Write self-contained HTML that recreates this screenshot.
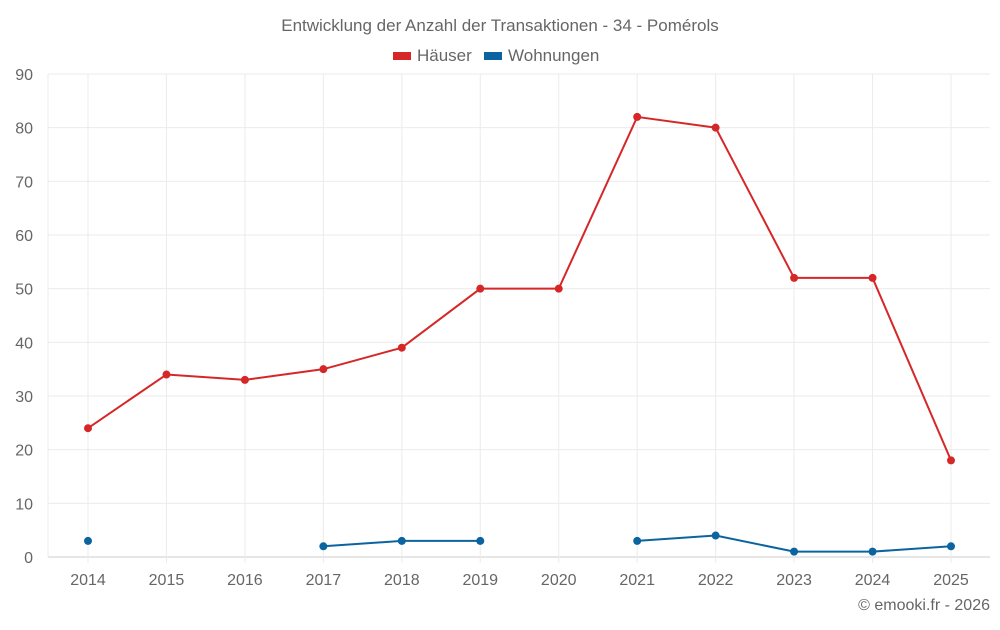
<!DOCTYPE html>
<html><head><meta charset="utf-8"><style>
body{margin:0;background:#fff;font-family:"Liberation Sans",sans-serif;}
svg text{font-family:"Liberation Sans",sans-serif;fill:#666;}
</style></head><body>
<svg id="c" width="1000" height="625">
<text x="500" y="31" text-anchor="middle" font-size="17">Entwicklung der Anzahl der Transaktionen - 34 - Pomérols</text>
<g>
<rect x="393" y="52" width="18" height="8" fill="#d62728"/>
<text x="417" y="61" font-size="17">Häuser</text>
<rect x="484" y="52" width="18" height="8" fill="#0b64a0"/>
<text x="508" y="61" font-size="17">Wohnungen</text>
</g>
<g id="grid"></g><g id="axes"></g><g id="series"></g>
<text x="990" y="610" text-anchor="end" font-size="16">© emooki.fr - 2026</text>
</svg>
<script>
const categories=[2014,2015,2016,2017,2018,2019,2020,2021,2022,2023,2024,2025];
const haeuser=[24,34,33,35,39,50,50,82,80,52,52,18];
const wohnungen=[3,null,null,2,3,3,null,3,4,1,1,2];
const yTicks=[0,10,20,30,40,50,60,70,80,90];
const NS="http://www.w3.org/2000/svg";
const L=48,R=990,T=74,B=557,yMax=90;
const x=i=>88+i*(951-88)/(categories.length-1);
const y=v=>B-(v/yMax)*(B-T);
function mk(tag,attrs,parent){const e=document.createElementNS(NS,tag);for(const k in attrs)e.setAttribute(k,attrs[k]);document.getElementById(parent).appendChild(e);return e;}
yTicks.forEach(t=>{
 const l=mk('line',{x1:L,x2:R,y1:y(t),y2:y(t),stroke:t===0?'#ccc':'#ebebeb'},'grid');
 
 
 const tx=mk('text',{x:33,y:y(t)+6,'text-anchor':'end','font-size':16},'axes');tx.textContent=t;
 
 
});
mk('line',{x1:L,x2:L,y1:T,y2:B,stroke:'#ebebeb'},'grid');
categories.forEach((c,i)=>{
 const l=mk('line',{x1:x(i),x2:x(i),y1:T,y2:B+6,stroke:'#ebebeb'},'grid');
 
 
 const tx=mk('text',{x:x(i),y:585,'text-anchor':'middle','font-size':16},'axes');tx.textContent=c;
 
 
});
function series(data,color,name){
 let d='',pen=false;
 data.forEach((v,i)=>{if(v==null){pen=false;return;}d+=(pen?'L':'M')+x(i)+' '+y(v)+' ';pen=true;});
 const p=mk('path',{d:d,fill:'none',stroke:color,'stroke-width':2},'series');
 
 
 data.forEach((v,i)=>{if(v==null)return;
  const c=mk('circle',{cx:x(i),cy:y(v),r:4,fill:color},'series');
  
  
 });
}
series(haeuser,'#d62728','haeuser');
series(wohnungen,'#0b64a0','wohnungen');
</script>
</body></html>
